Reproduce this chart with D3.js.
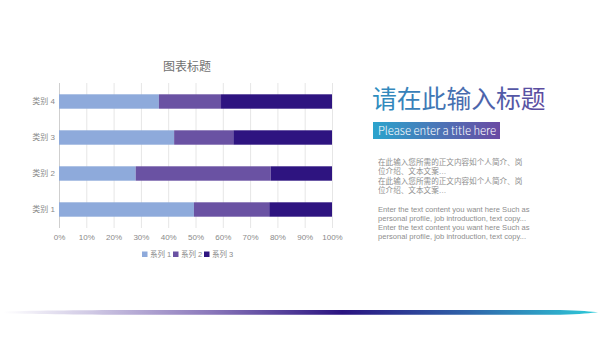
<!DOCTYPE html>
<html><head><meta charset="utf-8">
<script src="https://cdn.jsdelivr.net/npm/d3@7"></script>
<style>html,body{margin:0;padding:0;background:#fff;}svg{display:block;}</style>
</head><body>
<svg id="c" width="600" height="338"></svg>
<script>
const categories = ["类别 1","类别 2","类别 3","类别 4"];
const seriesNames = ["系列 1","系列 2","系列 3"];
const series1 = [4.3, 2.5, 3.5, 4.5];
const series2 = [2.4, 4.4, 1.8, 2.8];
const series3 = [2, 2, 3, 5];
const xTicks = [0,0.1,0.2,0.3,0.4,0.5,0.6,0.7,0.8,0.9,1];
const colors = ["#8eaadb","#6a52a3","#2e1480"];
const chartTitle = "图表标题";
const mainTitle = "请在此输入标题";
const subTitle = "Please enter a title here";
const bodyCN = ["在此输入您所需的正文内容如个人简介、岗","位介绍、文本文案…","在此输入您所需的正文内容如个人简介、岗","位介绍、文本文案…"];
const bodyEN = ["Enter the text content you want here Such as","personal profile, job introduction, text copy...","Enter the text content you want here Such as","personal profile, job introduction, text copy..."];

const svg = d3.select("#c");
const font = "'Liberation Sans','Noto Sans CJK SC',sans-serif";
const rows = categories.map((c,i)=>({cat:c, s0:series1[i], s1:series2[i], s2:series3[i]}));
rows.forEach(r=>{const t=r.s0+r.s1+r.s2; r.s0/=t; r.s1/=t; r.s2/=t;});
const stack = d3.stack().keys(["s0","s1","s2"])(rows);

const x = d3.scaleLinear().domain([0,1]).range([59,332]);
const y = d3.scaleBand().domain(categories.slice().reverse()).range([83.5,227.5]).paddingInner(0.6).paddingOuter(0.3);

// gridlines
svg.append("g").selectAll("line").data(xTicks).join("line")
  .attr("x1",d=>x(d)+0.5).attr("x2",d=>x(d)+0.5).attr("y1",83).attr("y2",228)
  .attr("stroke",d=>d===0?"#cfcfcf":"#e6e6e6").attr("stroke-width",1);

// bars
svg.append("g").selectAll("g").data(stack).join("g").attr("fill",(d,i)=>colors[i])
  .selectAll("rect").data(d=>d).join("rect")
  .attr("x",d=>x(d[0])).attr("width",d=>x(d[1])-x(d[0]))
  .attr("y",d=>y(d.data.cat)).attr("height",y.bandwidth());

// x axis labels
const xAxis = d3.axisBottom(x).tickValues(xTicks).tickFormat(d3.format(".0%")).tickSize(0).tickPadding(0);
const gx = svg.append("g").attr("transform","translate(0,234)").call(xAxis);
gx.select(".domain").remove();
gx.selectAll("text").attr("font-family",font).attr("font-size",8).attr("fill","#8a8a8a");

// y axis labels
const yAxis = d3.axisLeft(y).tickSize(0).tickPadding(4);
const gy = svg.append("g").attr("transform","translate(59,0)").call(yAxis);
gy.select(".domain").remove();
gy.selectAll("text").attr("font-family",font).attr("font-size",8).attr("fill","#8a8a8a");

// chart title
svg.append("text").attr("x",187).attr("y",71).attr("text-anchor","middle")
  .attr("font-family",font).attr("font-size",12).attr("fill","#707070").text(chartTitle);

// legend
const lg = svg.append("g").attr("transform","translate(142,254)");
let lx = 0;
seriesNames.forEach((n,i)=>{
  lg.append("rect").attr("x",lx).attr("y",-2.5).attr("width",5.5).attr("height",5.5).attr("fill",colors[i]);
  lg.append("text").attr("x",lx+8).attr("y",3).attr("font-family",font).attr("font-size",7.5).attr("fill","#8a8a8a").text(n);
  lx += 31;
});

// defs
const defs = svg.append("defs");
const g1 = defs.append("linearGradient").attr("id","tg").attr("x1","0").attr("x2","1");
g1.append("stop").attr("offset","0").attr("stop-color","#2e8fc0");
g1.append("stop").attr("offset","1").attr("stop-color","#5d4a9f");
const g2 = defs.append("linearGradient").attr("id","bg").attr("x1","0").attr("x2","1");
g2.append("stop").attr("offset","0").attr("stop-color","#2ba3cc");
g2.append("stop").attr("offset","1").attr("stop-color","#6a4aa3");
const g3 = defs.append("linearGradient").attr("id","lg").attr("x1","0").attr("x2","1");
g3.append("stop").attr("offset","0").attr("stop-color","#ffffff");
g3.append("stop").attr("offset","0.15").attr("stop-color","#cfc8e4");
g3.append("stop").attr("offset","0.35").attr("stop-color","#8a77ba");
g3.append("stop").attr("offset","0.57").attr("stop-color","#2a1380");
g3.append("stop").attr("offset","0.78").attr("stop-color","#2f63a9");
g3.append("stop").attr("offset","1").attr("stop-color","#2ecbd9");

// right title
svg.append("text").attr("x",372).attr("y",108).attr("font-family","'Noto Sans CJK SC',sans-serif").attr("font-size",24.8)
  .attr("font-weight",400).attr("fill","url(#tg)").text(mainTitle);
svg.append("rect").attr("x",373).attr("y",122).attr("width",127).attr("height",17).attr("fill","url(#bg)");
svg.append("text").attr("x",378).attr("y",134.5).attr("font-family","'Noto Sans CJK SC','Noto Sans',sans-serif")
  .attr("font-weight",300).attr("font-size",11.5).attr("textLength",118).attr("lengthAdjust","spacingAndGlyphs")
  .attr("fill","#ffffff").text(subTitle);

// body text
svg.append("g").selectAll("text").data(bodyCN).join("text")
  .attr("x",378).attr("y",(d,i)=>165+i*9.1+(i>=2?0.6:0)).attr("font-family",font).attr("font-size",7.6)
  .attr("fill","#8e8e8e").text(d=>d);
svg.append("g").selectAll("text").data(bodyEN).join("text")
  .attr("x",378).attr("y",(d,i)=>212+i*8.9).attr("font-family","'Liberation Sans','Noto Sans',sans-serif").attr("font-size",7.6)
  .attr("fill","#8e8e8e").text(d=>d);

// bottom decorative line
svg.append("path")
  .attr("d","M3,311.4 C40,310.4 80,309.9 150,309.9 L560,309.9 C580,310.3 592,311.6 598,312.3 C592,313 580,314.3 560,314.7 L150,314.7 C80,314.7 40,314.1 3,313.2 Z")
  .attr("fill","url(#lg)");
</script>
</body></html>
